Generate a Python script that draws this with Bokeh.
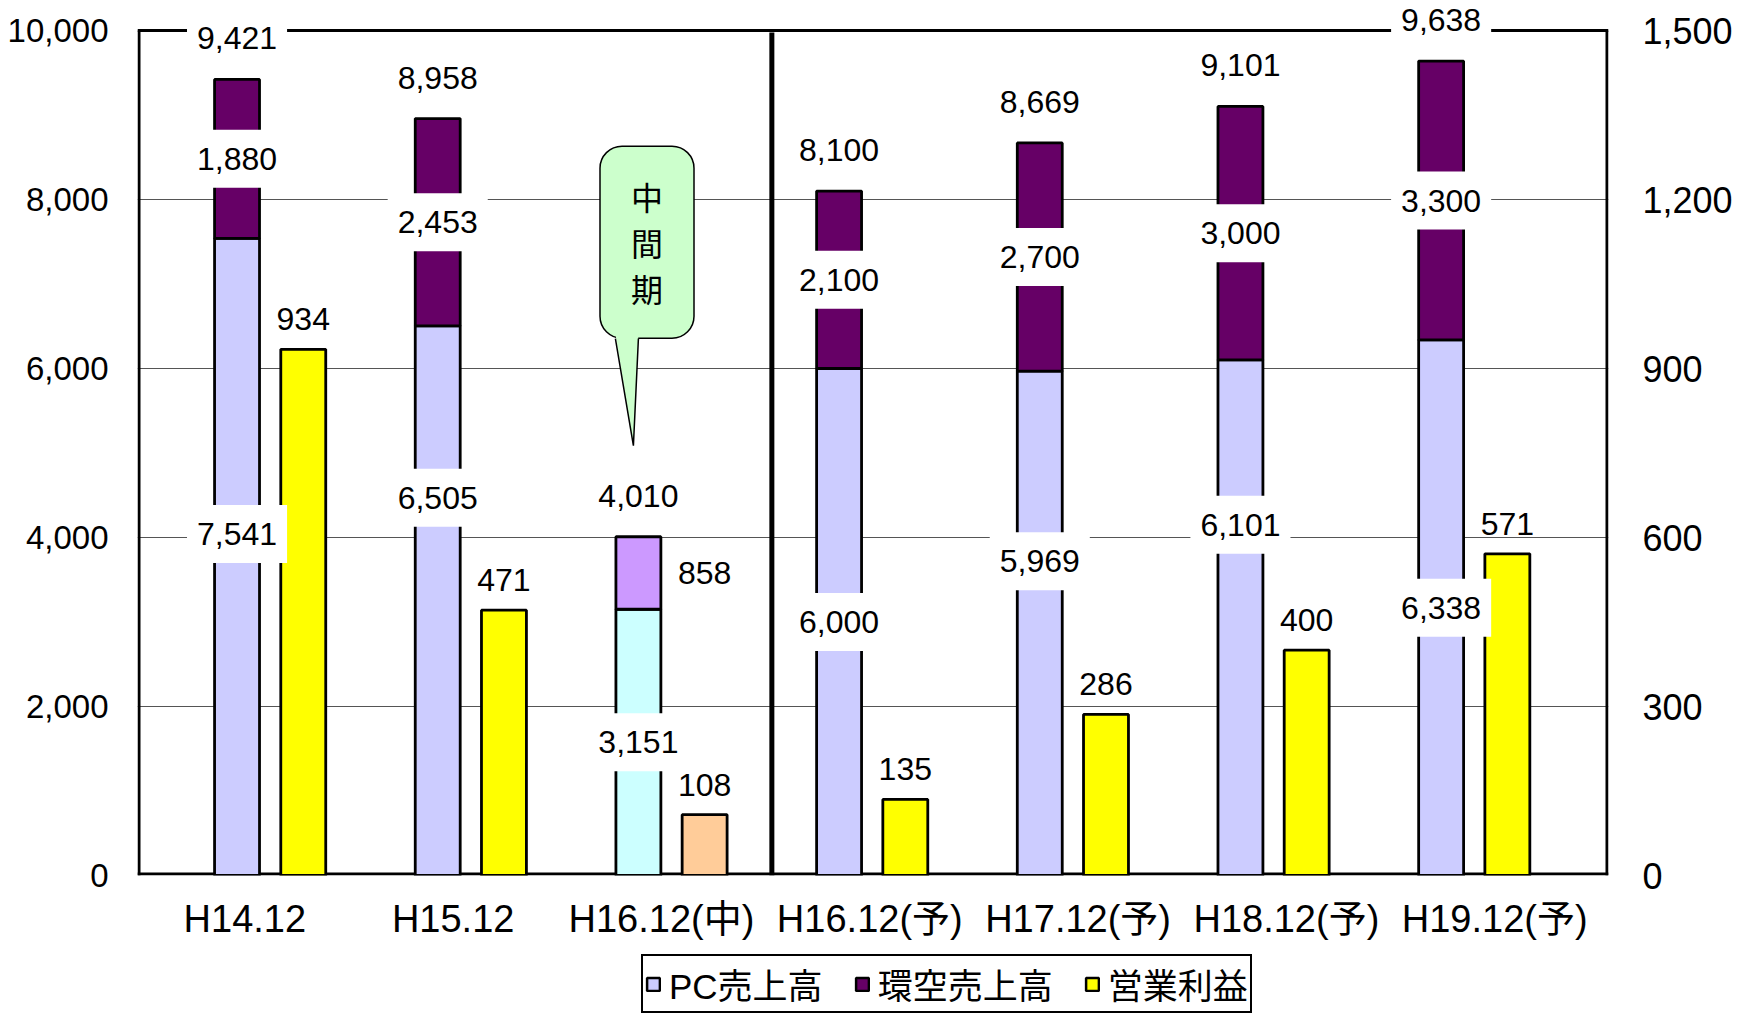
import numpy as np
from bokeh.plotting import figure
from bokeh.layouts import column
from bokeh.models import (ColumnDataSource, Range1d, LinearAxis, FixedTicker,
                          NumeralTickFormatter, Label, LabelSet, Legend, LegendItem)
from bokeh.core.properties import value
from bokeh.embed import file_html
from bokeh.resources import INLINE

# ---------------- data ----------------
categories = ["H14.12", "H15.12", "H16.12(中)", "H16.12(予)", "H17.12(予)", "H18.12(予)", "H19.12(予)"]
pc_sales = [7541, 6505, 3151, 6000, 5969, 6101, 6338]
env_sales = [1880, 2453, 858, 2100, 2700, 3000, 3300]
total_sales = [9421, 8958, 4010, 8100, 8669, 9101, 9638]
op_profit = [934, 471, 108, 135, 286, 400, 571]
is_interim = [False, False, True, False, False, False, False]
left_ticks = [0, 2000, 4000, 6000, 8000, 10000]
right_ticks = [0, 300, 600, 900, 1200, 1500]
series_names = ["PC売上高", "環空売上高", "営業利益"]
callout_text = "中\n間\n期"

# ---------------- style / layout ----------------
PLOT_W, PLOT_H = 1471, 845          # drawn chart box (pixels)
HEADROOM = 28                        # extra frame space above the box for labels
BORDER_L, BORDER_T, BORDER_R, BORDER_B = 137, 30 - HEADROOM, 130, 75
LEG_FIG_H = 66
X0, X1 = -0.496, 6.834
Y_MAX, Y2_MAX = 10000, 1500
uy = Y_MAX / PLOT_H           # data units per pixel (left axis)
uy2 = Y2_MAX / PLOT_H         # data units per pixel (right axis)
ux = (X1 - X0) / PLOT_W       # data units per pixel (x)
Y_TOP = Y_MAX + HEADROOM * uy
Y2_TOP = Y2_MAX + HEADROOM * uy2
BAR_W = 0.224
PROFIT_OFF = 0.33
LABEL_START, LABEL_PITCH = 0.039, 1.038
pc_label_lift_px = [23, 103, 0, 0, 62, 93, 0]
NUM_FONT = "Liberation Sans"
CJK_FONT = "Liberation Sans, Noto Sans CJK JP"
LBL_SIZE = 32

C_PC, C_ENV, C_PROFIT = "#CCCCFF", "#660066", "#FFFF00"
C_PC_I, C_ENV_I, C_PROFIT_I = "#CCFFFF", "#CC99FF", "#FFCC99"

n = len(categories)
idx = np.arange(n, dtype=float)
x_stack = idx
x_profit = idx + PROFIT_OFF
pc = np.array(pc_sales, dtype=float)
env = np.array(env_sales, dtype=float)
tot = np.array(total_sales, dtype=float)
prof = np.array(op_profit, dtype=float)


def fmt(v):
    return f"{int(v):,}"


def text_w(s, size=LBL_SIZE):
    w = 0.0
    for ch in s:
        w += 0.278 if ch in ",." else 0.556
    return w * size


src = ColumnDataSource(dict(
    x=x_stack, xp=x_profit, pc=pc, env_top=pc + env, prof=prof,
    pc_col=[C_PC_I if f else C_PC for f in is_interim],
    env_col=[C_ENV_I if f else C_ENV for f in is_interim],
    prof_col=[C_PROFIT_I if f else C_PROFIT for f in is_interim],
))

p = figure(frame_width=PLOT_W, frame_height=PLOT_H + HEADROOM, output_backend="svg",
           toolbar_location=None, x_range=Range1d(X0, X1), y_range=Range1d(0, Y_TOP),
           min_border_left=BORDER_L, min_border_right=BORDER_R,
           min_border_top=BORDER_T, min_border_bottom=BORDER_B)
p.extra_y_ranges = {"profit": Range1d(0, Y2_TOP)}
p.outline_line_color = None
p.background_fill_color = "white"
p.border_fill_color = "white"

# grid
p.xgrid.visible = False
p.ygrid.ticker = FixedTicker(ticks=left_ticks[1:-1])
p.ygrid.grid_line_color = "#555555"
p.ygrid.grid_line_width = 1

# axes
yax = p.yaxis[0]
yax.ticker = FixedTicker(ticks=left_ticks)
yax.formatter = NumeralTickFormatter(format="0,0")
yax.axis_line_color = None
yax.major_tick_line_color = None
yax.minor_tick_line_color = None
yax.major_label_standoff = 23
yax.major_label_text_font = NUM_FONT
yax.major_label_text_font_size = "33px"
yax.major_label_text_color = "black"

rax = LinearAxis(y_range_name="profit", ticker=FixedTicker(ticks=right_ticks),
                 formatter=NumeralTickFormatter(format="0,0"))
rax.axis_line_color = None
rax.major_tick_line_color = None
rax.minor_tick_line_color = None
rax.major_label_standoff = 28
rax.major_label_text_font = NUM_FONT
rax.major_label_text_font_size = "36px"
rax.major_label_text_color = "black"
p.add_layout(rax, "right")

xax = p.xaxis[0]
tick_pos = [float(LABEL_START + i * LABEL_PITCH) for i in range(n)]
xax.ticker = FixedTicker(ticks=tick_pos)
xax.major_label_overrides = {t: c for t, c in zip(tick_pos, categories)}
xax.axis_line_color = None
xax.major_tick_line_color = None
xax.minor_tick_line_color = None
xax.major_label_standoff = 16
xax.major_label_text_font = CJK_FONT
xax.major_label_text_font_size = "38px"
xax.major_label_text_color = "black"

# chart box (drawn as glyphs so label boxes can mask it)
k_int = is_interim.index(True)
x_div = (x_profit[k_int] + x_stack[k_int + 1]) / 2
box = ColumnDataSource(dict(
    x0=[X0 + 1.5 * ux, X1 - 1.5 * ux, X0, X0],
    x1=[X0 + 1.5 * ux, X1 - 1.5 * ux, X1, X1],
    y0=[0, 0, Y_MAX, 1.5 * uy],
    y1=[Y_MAX, Y_MAX, Y_MAX, 1.5 * uy]))
p.segment(x0="x0", y0="y0", x1="x1", y1="y1", source=box, line_color="black",
          line_width=3)
p.segment(x0=[x_div], y0=[0], x1=[x_div], y1=[Y_MAX - 2 * uy], line_color="black",
          line_width=5)

# bars
r_pc = p.vbar(x="x", bottom=0, top="pc", width=BAR_W, source=src,
              fill_color="pc_col", line_color="black", line_width=2.8)
r_env = p.vbar(x="x", bottom="pc", top="env_top", width=BAR_W, source=src,
               fill_color="env_col", line_color="black", line_width=2.8)
r_prof = p.vbar(x="xp", bottom=0, top="prof", width=BAR_W, source=src,
                y_range_name="profit", fill_color="prof_col", line_color="black",
                line_width=2.8)

# ---------------- value labels ----------------
lab_x, lab_y, lab_t, box_w = [], [], [], []
for i in range(n):
    lab_x.append(x_stack[i]); lab_y.append(tot[i] + 41 * uy); lab_t.append(fmt(tot[i]))
    lab_x.append(x_stack[i]); lab_y.append(pc[i] / 2 + pc_label_lift_px[i] * uy); lab_t.append(fmt(pc[i]))
    lab_x.append(x_profit[i] if is_interim[i] else x_stack[i])
    lab_y.append(pc[i] + env[i] / 2); lab_t.append(fmt(env[i]))
for t in lab_t:
    box_w.append(text_w(t) + 20)

lsrc = ColumnDataSource(dict(x=lab_x, y=lab_y, t=lab_t, w=box_w))
p.rect(x="x", y="y", width="w", height=58, width_units="screen", height_units="screen",
       source=lsrc, fill_color="white", line_color=None)
p.add_layout(LabelSet(x="x", y="y", text="t", source=lsrc, text_font=value(NUM_FONT),
                      text_font_size=value(f"{LBL_SIZE}px"), text_align="center",
                      text_baseline="middle", text_color="black"))

psrc = ColumnDataSource(dict(x=x_profit, y=prof + 30 * uy2, t=[fmt(v) for v in prof]))
p.add_layout(LabelSet(x="x", y="y", text="t", source=psrc, y_range_name="profit",
                      text_font=value(NUM_FONT), text_font_size=value(f"{LBL_SIZE}px"),
                      text_align="center", text_baseline="middle", text_color="black"))

# ---------------- callout ----------------
cx0, cy0 = x_stack[k_int], tot[k_int]
callout = Label(x=cx0 + 8.6 * ux, y=cy0 + 294.5 * uy, text=callout_text,
                text_font="Noto Sans CJK JP", text_font_size="32px", text_color="black",
                text_align="center", text_baseline="middle", text_line_height=1.0,
                background_fill_color="#CCFFCC", border_line_color="black",
                border_line_width=1.5, border_radius=22, padding=(31, 27))
p.add_layout(callout)
tail_x = [cx0 - 23 * ux, cx0 + 0 * ux, cx0 - 5 * ux]
tail_y = [cy0 + 203 * uy, cy0 + 203 * uy, cy0 + 91 * uy]
p.patch(tail_x, tail_y, fill_color="#CCFFCC", line_color=None, level="overlay")
p.line([tail_x[0], tail_x[2], tail_x[1]], [cy0 + 198 * uy, tail_y[2], cy0 + 198 * uy],
       line_color="black", line_width=1.5, level="overlay")

# ---------------- legend (separate strip below the chart) ----------------
fig_w = BORDER_L + PLOT_W + BORDER_R
q = figure(width=fig_w, height=LEG_FIG_H, output_backend="svg", toolbar_location=None,
           x_range=Range1d(0, 1), y_range=Range1d(0, 1), x_axis_type=None,
           y_axis_type=None, min_border=0)
q.outline_line_color = None
q.grid.visible = False
q.background_fill_color = "white"
leg_cols = [C_PC, C_ENV, C_PROFIT]
# stand-in glyphs for the legend keys, hidden underneath the opaque legend box
dummies = [q.vbar(x=[0.55], bottom=[0.45], top=[0.5], width=0.005, fill_color=c,
                  line_color="black", line_width=2.5) for c in leg_cols]
legend = Legend(items=[LegendItem(label=nm, renderers=[r]) for nm, r in zip(series_names, dummies)],
                orientation="horizontal", location=(641 - BORDER_L, 3),
                border_line_color="black", border_line_width=2, border_line_alpha=1,
                background_fill_color="white", background_fill_alpha=1,
                label_text_font=CJK_FONT, label_text_font_size="35px",
                label_text_color="black",
                glyph_width=16, glyph_height=16, label_standoff=8, spacing=31,
                padding=2, margin=0)
q.add_layout(legend)

open("out.html", "w").write(file_html(column(p, q, spacing=0), INLINE))
